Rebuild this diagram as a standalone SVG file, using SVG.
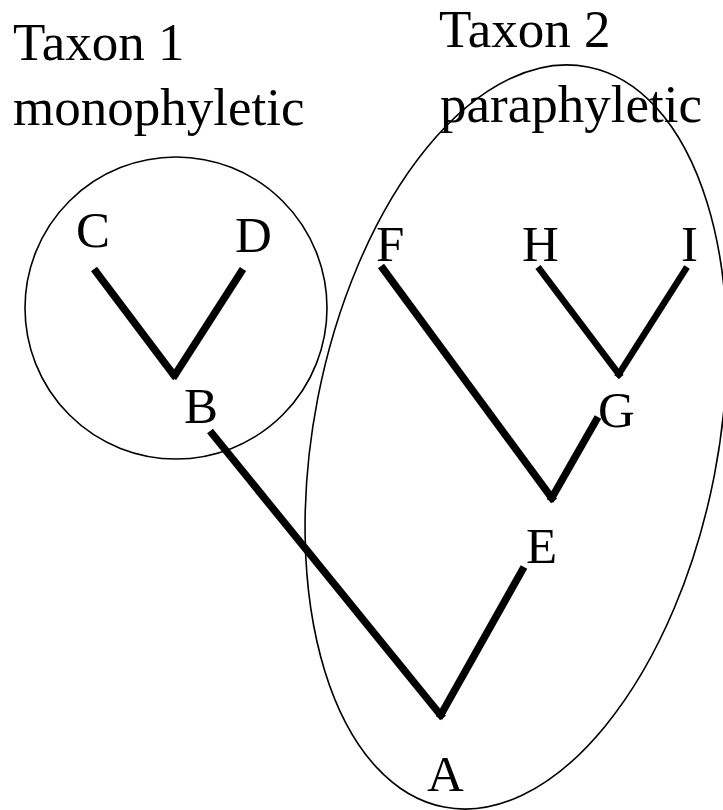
<svg xmlns="http://www.w3.org/2000/svg" width="723" height="810" viewBox="0 0 723 810">
<style>
.t{font-family:"Liberation Serif","Times New Roman",serif;font-size:53px;fill:#000}
.n{font-family:"Liberation Serif","Times New Roman",serif;font-size:51px;fill:#000}
.br{stroke:#000;stroke-width:7.5;stroke-linecap:butt;fill:none}
.br2{stroke:#000;stroke-width:6.5;stroke-linecap:butt;fill:none}
.grp{stroke:#000;stroke-width:1.6;fill:none}
</style>
<rect width="723" height="810" fill="#fff"/>
<g id="taxa">
<g id="taxon1"><circle class="grp" cx="176" cy="308" r="151"/>
<text class="t" x="13" y="60">Taxon 1</text>
<text class="t" x="13" y="125">monophyletic</text></g>
<g id="taxon2"><ellipse class="grp" cx="516" cy="437" rx="202" ry="377" transform="rotate(11 516 437)"/>
<text class="t" x="439" y="47">Taxon 2</text>
<text class="t" x="440" y="122">paraphyletic</text></g>
</g>
<g id="connectors">
<line class="br" x1="94" y1="269" x2="176" y2="378"/>
<line class="br" x1="243" y1="269" x2="173" y2="378"/>
<line class="br" x1="210" y1="431" x2="443" y2="718"/>
<line class="br" x1="524" y1="567" x2="439" y2="718"/>
<line class="br" x1="381" y1="266" x2="554" y2="501"/>
<line class="br" x1="598" y1="417" x2="550" y2="501"/>
<line class="br2" x1="538" y1="267" x2="621" y2="377"/>
<line class="br2" x1="687" y1="267" x2="617" y2="377"/>
</g>
<g id="node-C"><text class="n" x="76" y="247">C</text></g>
<g id="node-D"><text class="n" x="235" y="252">D</text></g>
<g id="node-B"><text class="n" x="184" y="423">B</text></g>
<g id="node-F"><text class="n" x="376" y="261">F</text></g>
<g id="node-H"><text class="n" x="522" y="261">H</text></g>
<g id="node-I"><text class="n" x="681" y="261">I</text></g>
<g id="node-G"><text class="n" x="598" y="427">G</text></g>
<g id="node-E"><text class="n" x="526" y="563">E</text></g>
<g id="node-A"><text class="n" x="427" y="791">A</text></g>
</svg>
